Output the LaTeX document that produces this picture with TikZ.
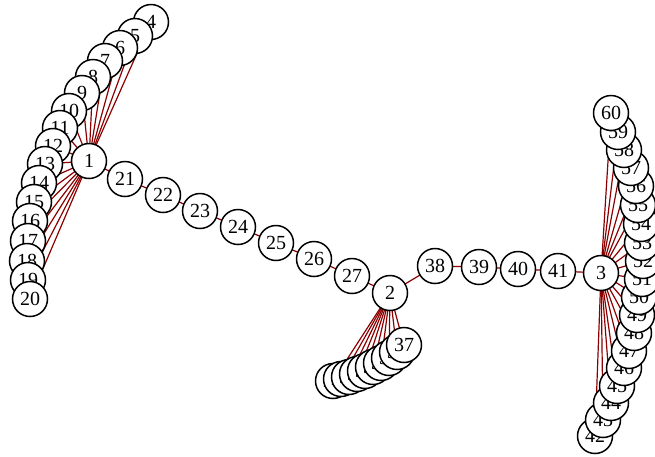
\documentclass[tikz,border=0pt]{standalone}
\usepackage{fontspec}
\setmainfont{Liberation Serif}
\pgfdeclarelayer{bg}
\pgfsetlayers{bg,main}
\definecolor{edgered}{RGB}{139,0,0}
\tikzset{
  vtx/.style={circle, draw=black, line width=1.5pt, fill=white, minimum size=35pt, inner sep=0pt, font=\fontsize{20}{20}\selectfont},
  lnk/.style={draw=edgered, line width=1.2pt}
}
\begin{document}
\begin{tikzpicture}[x=1pt,y=-1pt]
\useasboundingbox (0,0) rectangle (655,456);
% hubs and nodes in drawing order
\node[vtx] (n1) at (89,161) {1};
\node[vtx] (n2) at (390,293) {2};
\node[vtx] (n3) at (601,273) {3};
\node[vtx] (n4) at (151,22) {4};
\node[vtx] (n5) at (135,36) {5};
\node[vtx] (n6) at (120,48) {6};
\node[vtx] (n7) at (105,61) {7};
\node[vtx] (n8) at (93,77) {8};
\node[vtx] (n9) at (82,93) {9};
\node[vtx] (n10) at (69,111) {10};
\node[vtx] (n11) at (60,128) {11};
\node[vtx] (n12) at (53,146) {12};
\node[vtx] (n13) at (45,164) {13};
\node[vtx] (n14) at (39,183) {14};
\node[vtx] (n15) at (34,202) {15};
\node[vtx] (n16) at (30,221) {16};
\node[vtx] (n17) at (28,241) {17};
\node[vtx] (n18) at (27,261) {18};
\node[vtx] (n19) at (28,280) {19};
\node[vtx] (n20) at (30,299) {20};
\node[vtx] (n21) at (125,179) {21};
\node[vtx] (n22) at (163,195) {22};
\node[vtx] (n23) at (200,211) {23};
\node[vtx] (n24) at (238,227) {24};
\node[vtx] (n25) at (276,243) {25};
\node[vtx] (n26) at (314,259) {26};
\node[vtx] (n27) at (352,276) {27};
\node[vtx] (n28) at (333,381) {28};
\node[vtx] (n29) at (341,379) {29};
\node[vtx] (n30) at (349,377) {30};
\node[vtx] (n31) at (357,374) {31};
\node[vtx] (n32) at (365,371) {32};
\node[vtx] (n33) at (373,367) {33};
\node[vtx] (n34) at (381,363) {34};
\node[vtx] (n35) at (389,358) {35};
\node[vtx] (n36) at (397,352) {36};
\node[vtx] (n37) at (404,345) {37};
\node[vtx] (n38) at (435,266) {38};
\node[vtx] (n39) at (479,267) {39};
\node[vtx] (n40) at (518,269) {40};
\node[vtx] (n41) at (558,271) {41};
\node[vtx] (n42) at (595,436) {42};
\node[vtx] (n43) at (603,420) {43};
\node[vtx] (n44) at (611,403) {44};
\node[vtx] (n45) at (617,386) {45};
\node[vtx] (n46) at (624,368) {46};
\node[vtx] (n47) at (629,351) {47};
\node[vtx] (n48) at (634,333) {48};
\node[vtx] (n49) at (637,315) {49};
\node[vtx] (n50) at (639,297) {50};
\node[vtx] (n51) at (642,279) {51};
\node[vtx] (n52) at (643,261) {52};
\node[vtx] (n53) at (642,243) {53};
\node[vtx] (n54) at (641,224) {54};
\node[vtx] (n55) at (638,205) {55};
\node[vtx] (n56) at (636,186) {56};
\node[vtx] (n57) at (631,168) {57};
\node[vtx] (n58) at (624,150) {58};
\node[vtx] (n59) at (618,132) {59};
\node[vtx] (n60) at (611,113) {60};
% connectors beneath the nodes
\begin{pgfonlayer}{bg}
\foreach \k in {4,...,21} { \draw[lnk] (n1.center) -- (n\k.center); }
\draw[lnk] (n21.center) -- (n22.center) -- (n23.center) -- (n24.center) -- (n25.center) -- (n26.center) -- (n27.center) -- (n2.center) -- (n38.center) -- (n39.center) -- (n40.center) -- (n41.center) -- (n3.center);
\foreach \k in {28,...,37} { \draw[lnk] (n2.center) -- (n\k.center); }
\foreach \k in {42,...,60} { \draw[lnk] (n3.center) -- (n\k.center); }
\end{pgfonlayer}
\end{tikzpicture}
\end{document}
